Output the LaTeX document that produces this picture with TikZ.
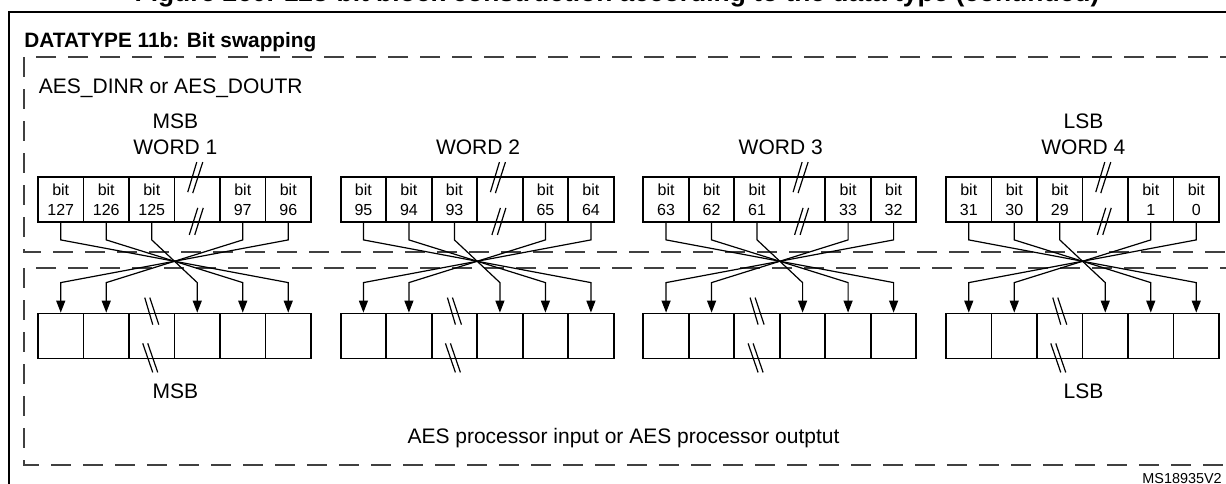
\documentclass[tikz,border=0pt]{standalone}
\usepackage{fontspec}
\setmainfont{Liberation Sans}
\usetikzlibrary{arrows.meta,positioning}

\begin{document}
\begin{tikzpicture}[x=0.5pt, y=-0.5pt,
        txt/.style={font=\fontsize{10.5}{12.5}\selectfont, inner sep=0pt},
        cell/.style={draw, line width=0.9pt, minimum width=22.75pt, minimum height=22.5pt, inner sep=0pt, align=center, font=\fontsize{8}{10}\selectfont},
        wire/.style={line width=0.6pt, -{Triangle[length=6pt, width=4.5pt]}},
        brk/.style={line width=0.6pt},
        zone/.style={line width=0.7pt, black!75, dash pattern=on 10pt off 6pt}]
    \useasboundingbox (0,0) rectangle (1226,483);

    % frame and titles
    \draw[line width=1.3pt] (9,520) -- (9,12) -- (1240,12);
    \node[anchor=base, inner sep=0pt, font=\bfseries\fontsize{13.2}{15}\selectfont] (title) at (617,1.5) {Figure 260. 128-bit block construction according to the data type (continued)};
    \node[anchor=base west, inner sep=0pt, font=\bfseries\fontsize{10.4}{12}\selectfont] (dtype) at (24,47.5) {DATATYPE 11b: Bit swapping};

    % dashed zones
    \draw[zone] (1240,57) -- (24,57) -- (24,252) -- (1240,252);
    \draw[zone] (1240,268) -- (24,268) -- (24,465) -- (1240,465);
    \node[txt, anchor=base west] (regs) at (38.5,93) {AES\_DINR or AES\_DOUTR};

    % cells of the four words
    \foreach \w in {0,...,3} {
        \pgfmathsetmacro{\xo}{38+302.67*\w}
        \pgfmathtruncatemacro{\wn}{\w+1}
        \foreach \i in {0,...,5} {
            \pgfmathsetmacro{\cx}{\xo+45.5*(\i+0.5)}
            \pgfmathtruncatemacro{\bitno}{127-32*\w-\i-(\i>3)*26}
            \ifnum\i=3
                \node[cell] (u\w\i) at (\cx,199.5) {};
            \else
                \node[cell] (u\w\i) at (\cx,199.5) {bit\\\bitno};
            \fi
            \node[cell] (l\w\i) at (\cx,336) {};
        }
        \node[txt, anchor=base] (w\w) at ([yshift=11pt]u\w2.north east) {WORD \wn};
        % swapped connections
        \foreach \s/\t in {0/5,1/4,2/3,4/1,5/0}
            \draw[wire] (u\w\s.south) -- ++(0,17) -- ([yshift=15pt]l\w\t.north) -- (l\w\t.north);
        % break marks
        \draw[brk, shift={(u\w3.north)}] (-9.5,16) -- (-0.5,-14) (-4.5,17) -- (5.5,-14);
        \draw[brk, shift={(u\w3.south)}] (-8,12) -- (0.5,-15) (-2.5,12) -- (6,-15);
        \draw[brk, shift={(l\w2.north)}] (-7,-15) -- (1,12) (-2,-15) -- (7,12);
        \draw[brk, shift={(l\w2.south)}] (-9,-16) -- (1,13) (-4,-16) -- (6,13);
    }

    \node[txt, above=5pt of w0] (msbtop) {MSB};
    \node[txt, above=5pt of w3] (lsbtop) {LSB};
    \node[txt, below=12pt of l02.south east] (msbbot) {MSB};
    \node[txt, below=12pt of l32.south east] (lsbbot) {LSB};

    \node[txt, anchor=base] (proc) at (623.5,443) {AES processor input or AES processor outptut};
    \node[anchor=base west, inner sep=0pt, font=\fontsize{7.2}{8}\selectfont] (ref) at (1142,483) {MS18935V2};
\end{tikzpicture}
\end{document}
